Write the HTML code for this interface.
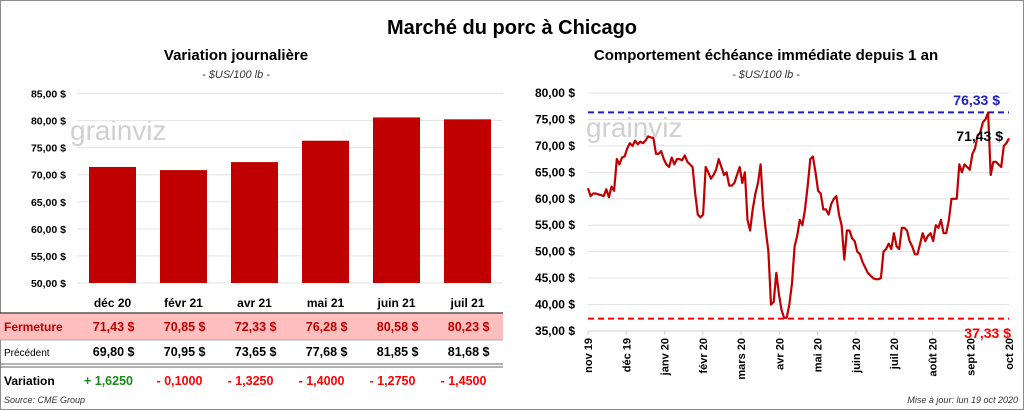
<!DOCTYPE html>
<html><head><meta charset="utf-8">
<style>
body{margin:0;background:#fff;}
svg{display:block;font-family:"Liberation Sans",sans-serif;}
</style></head>
<body>
<svg id="s" width="1024" height="410" viewBox="0 0 1024 410" xmlns="http://www.w3.org/2000/svg">
<rect x="0.5" y="0.5" width="1023" height="409" fill="#fff" stroke="#8c8c8c"/>
<text x="512" y="34" text-anchor="middle" font-size="20" font-weight="bold" fill="#000">Marché du porc à Chicago</text>
<text x="236" y="60" text-anchor="middle" font-size="15" font-weight="bold">Variation  journalière</text>
<text x="236" y="78" text-anchor="middle" font-size="11" font-style="italic" fill="#333">- $US/100 lb -</text>
<text x="766" y="60" text-anchor="middle" font-size="15" font-weight="bold">Comportement  échéance immédiate depuis 1 an</text>
<text x="766" y="78" text-anchor="middle" font-size="11" font-style="italic" fill="#333">- $US/100 lb -</text>
<g id="left"></g>
<g id="table"></g>
<g id="right"></g>
<text x="4" y="403" font-size="9" font-style="italic" fill="#333">Source: CME Group</text>
<text x="1018" y="403" text-anchor="end" font-size="9" font-style="italic" fill="#333">Mise à jour: lun 19 oct 2020</text>
</svg>
<script>
const barCats=["déc 20","févr 21","avr 21","mai 21","juin 21","juil 21"];
const closeVals=[71.43,70.85,72.33,76.28,80.58,80.23];
const prevVals=[69.80,70.95,73.65,77.68,81.85,81.68];
const varVals=["+ 1,6250","- 0,1000","- 1,3250","- 1,4000","- 1,2750","- 1,4500"];
const leftTicks=[50,55,60,65,70,75,80,85];
const rightTicks=[35,40,45,50,55,60,65,70,75,80];
const monthLabels=["nov 19","déc 19","janv 20","févr 20","mars 20","avr 20","mai 20","juin 20","juil 20","août 20","sept 20","oct 20"];
const priceSeries=[62,60.5,61,61,60.8,60.7,60.5,61.8,60.3,62.3,61.5,67.5,66.5,67.8,
68,69.5,70.5,70,71,70.3,70.8,70.5,71,71.8,71.6,71.5,68.5,
68.5,69,67.5,66.5,66,67.8,66.5,67.5,67.5,67.3,68.2,67,66.5,66,
61,57,56.5,57,66,65,63.8,64.5,65.5,67.5,66,64.5,65,62.5,62.5,63,64.5,
66,63,65,56,54,58,61,63,66.5,58.5,54,50,40,40.5,46,42,39,37.5,
37.5,40,44,51,53,56,55,58,62.5,67.5,68,65,61.5,61,
58,58,57,59,60,60.5,57,55,48.5,54,54,52.5,52,50,
49.5,48,47,46,45.5,45,44.8,44.8,45,50,50.5,51.5,50.5,53.5,
51,50.5,54.5,54.5,54,52,51,49.5,49.5,51.5,53.5,52,53,
53.5,52,55,54.5,56,53.5,53.5,56,60,60,60,66.5,65,
66.5,66,65.5,68.5,69.5,72,72.5,74.5,75,76.3,64.5,67,67,66.5,66,
70,70.5,71.43];
const highVal=76.33, lowVal=37.33, lastVal=71.43;

const NS="http://www.w3.org/2000/svg";
function mk(p,t,a,txt){const e=document.createElementNS(NS,t);for(const k in a)e.setAttribute(k,a[k]);if(txt!==undefined)e.textContent=txt;p.appendChild(e);return e;}
const fmt=v=>v.toFixed(2).replace('.',',');

// left bar chart
const L=document.getElementById('left');
const lx0=77,lx1=503,ly=v=>283-(v-50)*(283-93.5)/35;
const cw=(lx1-lx0)/barCats.length;
mk(L,'text',{x:70,y:140,"font-size":28,fill:"#d0d0d0","font-family":"Liberation Sans"},"grainviz");
leftTicks.forEach(t=>{
 const g=mk(L,'line',{x1:lx0,x2:lx1,y1:ly(t),y2:ly(t),stroke:"#e3e3e3","stroke-width":1});
 
 const tx=mk(L,'text',{x:66,y:ly(t)+4,"text-anchor":"end","font-size":10.5,"font-weight":"bold"},fmt(t)+" $");
 
});
closeVals.forEach((v,i)=>{
 const r=mk(L,'rect',{x:lx0+cw*i+12,y:ly(v),width:cw-24,height:ly(50)-ly(v),fill:"#c00000"});
 
 
});

// table
const T=document.getElementById('table');
const b1=mk(T,'rect',{x:0,y:313,width:503,height:27,fill:"#ffbfbf"});

mk(T,'line',{x1:0,x2:503,y1:313,y2:313,stroke:"#555","stroke-width":1.5});
mk(T,'line',{x1:0,x2:503,y1:340,y2:340,stroke:"#999","stroke-width":0.8});
mk(T,'line',{x1:0,x2:503,y1:364,y2:364,stroke:"#666","stroke-width":1});
mk(T,'line',{x1:0,x2:503,y1:367,y2:367,stroke:"#666","stroke-width":1});
mk(T,'text',{x:4,y:331,"font-size":12,"font-weight":"bold",fill:"#c00000"},"Fermeture");
mk(T,'text',{x:4,y:356,"font-size":10,fill:"#000"},"Précédent");
mk(T,'text',{x:4,y:385,"font-size":12,"font-weight":"bold",fill:"#000"},"Variation");
barCats.forEach((c,i)=>{
 const cx=lx0+cw*i+cw/2;
 const h=mk(T,'text',{x:cx,y:307,"text-anchor":"middle","font-size":12,"font-weight":"bold"},c);
 
 const f=mk(T,'text',{x:cx+22,y:331,"text-anchor":"end","font-size":12.5,"font-weight":"bold",fill:"#c00000",
  "xml:space":"preserve"},fmt(closeVals[i])+"  $");
 
 const p=mk(T,'text',{x:cx+22,y:356,"text-anchor":"end","font-size":12.5,"font-weight":"bold",fill:"#000"},fmt(prevVals[i])+"  $");
 
 const vv=mk(T,'text',{x:cx-4,y:385,"text-anchor":"middle","font-size":12.5,"font-weight":"bold",fill:varVals[i][0]=='+'?"#1a8a1a":"#ff0000"},varVals[i]);
 
});

// right line chart
const R=document.getElementById('right');
const rx0=588,rx1=1009,ry=v=>331-(v-35)*(331-93)/45;
mk(R,'text',{x:586,y:137,"font-size":28,fill:"#d0d0d0"},"grainviz");
rightTicks.forEach(t=>{
 if(t>35){const g=mk(R,'line',{x1:rx0,x2:rx1,y1:ry(t),y2:ry(t),stroke:"#e3e3e3"});}
 const tx=mk(R,'text',{x:575,y:ry(t)+4,"text-anchor":"end","font-size":12,"font-weight":"bold"},fmt(t)+" $");
 
});
mk(R,'line',{x1:rx0,x2:rx1,y1:ry(35),y2:ry(35),stroke:"#d0d0d0"});
const mw=(rx1-rx0)/(monthLabels.length-1);
monthLabels.forEach((m,i)=>{
 const x=rx0+mw*i;
 mk(R,'line',{x1:x,x2:x,y1:ry(35),y2:ry(35)+4,stroke:"#d0d0d0"});
 const t=mk(R,'text',{transform:`translate(${x+4},${ry(35)+7}) rotate(-90)`,"text-anchor":"end","font-size":11,"font-weight":"bold"},m);
 
});
const hl=mk(R,'line',{x1:rx0,x2:rx1,y1:ry(highVal),y2:ry(highVal),stroke:"#1f1fbf","stroke-width":2,"stroke-dasharray":"6,4"});

const ll=mk(R,'line',{x1:rx0,x2:rx1,y1:ry(lowVal),y2:ry(lowVal),stroke:"#ff0000","stroke-width":2,"stroke-dasharray":"6,4"});

const n=priceSeries.length;
const pts=priceSeries.map((v,i)=>(rx0+(rx1-rx0)*i/(n-1)).toFixed(1)+","+ry(v).toFixed(1)).join(" ");
const pl=mk(R,'polyline',{points:pts,fill:"none",stroke:"#c00000","stroke-width":2.2,"stroke-linejoin":"round"});

mk(R,'text',{x:1000,y:105,"text-anchor":"end","font-size":14,"font-weight":"bold",fill:"#1f1fbf"},fmt(highVal)+" $");
mk(R,'text',{x:1003,y:141,"text-anchor":"end","font-size":14,"font-weight":"bold",fill:"#000"},fmt(lastVal)+" $");
mk(R,'text',{x:1011,y:338,"text-anchor":"end","font-size":14,"font-weight":"bold",fill:"#ff0000"},fmt(lowVal)+" $");
</script>
</body></html>
